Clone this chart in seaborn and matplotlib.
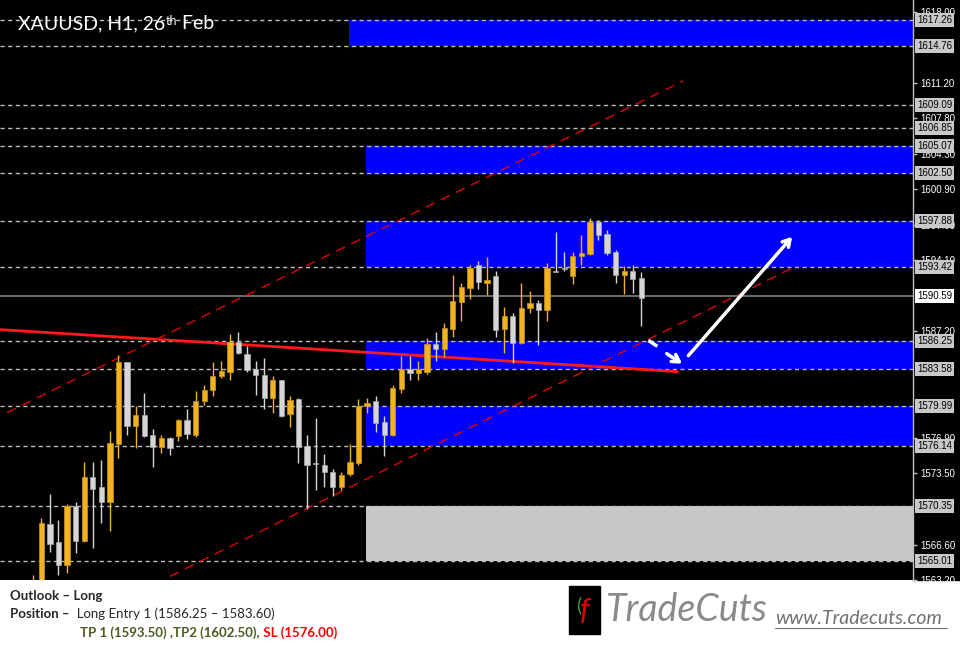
import numpy as np
import pandas as pd
import matplotlib
matplotlib.use("Agg")
import matplotlib.pyplot as plt
import matplotlib.transforms as mtransforms
from matplotlib.patches import Rectangle
from matplotlib.lines import Line2D
import seaborn as sns

# ---- candle data (H1 bars, index = bar number) ----
bar_idx = [0, 4, 5, 6, 7, 8, 9, 10, 11, 12, 13, 14, 15, 16, 17, 18, 19, 20, 21, 22,
           23, 24, 25, 26, 27, 28, 29, 30, 31, 32, 33, 34, 35, 36, 37, 38, 39, 40, 41, 42,
           43, 44, 45, 46, 47, 48, 49, 50, 51, 52, 53, 54, 55, 56, 57, 58, 59, 60, 61, 62,
           63, 64, 65, 66, 67, 68, 69, 70, 71, 72, 73, 74, 75]
opens = [1563.0, 1561.0, 1562.5, 1568.6, 1566.9, 1564.6, 1570.3, 1567.0, 1573.1, 1572.2,
         1570.7, 1576.3, 1584.2, 1578.1, 1579.1, 1577.2, 1576.0, 1576.9, 1577.1, 1578.6,
         1577.2, 1580.5, 1581.5, 1582.9, 1583.3, 1586.2, 1585.0, 1583.6, 1583.0, 1580.8,
         1582.5, 1579.2, 1580.7, 1576.1, 1574.5, 1574.3, 1573.6, 1572.2, 1573.4, 1574.5,
         1580.0, 1580.5, 1578.5, 1577.2, 1581.6, 1583.6, 1583.2, 1583.3, 1586.0, 1585.5,
         1587.4, 1590.0, 1591.4, 1593.6, 1591.9, 1592.5, 1587.4, 1588.7, 1586.1, 1589.5,
         1589.9, 1589.3, 1592.95, 1593.3, 1592.5, 1594.5, 1594.7, 1597.8, 1596.6, 1594.9,
         1592.6, 1593.0, 1592.4]
highs = [1569.8, 1563.7, 1569.2, 1571.5, 1569.0, 1570.5, 1570.7, 1574.6, 1574.6, 1574.8,
         1577.6, 1584.9, 1584.2, 1580.0, 1581.3, 1577.8, 1577.2, 1577.0, 1578.7, 1579.7,
         1581.4, 1582.0, 1584.2, 1584.3, 1586.9, 1587.1, 1585.8, 1584.3, 1584.6, 1582.9,
         1582.5, 1581.0, 1580.8, 1577.2, 1578.8, 1575.4, 1573.9, 1573.6, 1576.3, 1580.7,
         1580.8, 1581.0, 1579.0, 1582.0, 1584.8, 1584.8, 1584.3, 1586.6, 1587.1, 1588.0,
         1592.6, 1591.9, 1593.6, 1594.0, 1594.4, 1593.0, 1589.6, 1589.0, 1591.9, 1591.1,
         1590.2, 1593.8, 1596.8, 1594.9, 1594.9, 1596.5, 1598.1, 1598.0, 1597.0, 1595.1,
         1593.5, 1593.6, 1592.9]
lows = [1561.0, 1560.0, 1562.0, 1565.9, 1563.7, 1563.9, 1565.8, 1566.9, 1566.3, 1568.7,
        1567.9, 1575.0, 1577.2, 1575.9, 1577.0, 1574.1, 1575.5, 1575.3, 1576.6, 1576.8,
        1577.0, 1580.1, 1581.0, 1582.7, 1582.5, 1585.0, 1583.3, 1581.1, 1579.7, 1579.3,
        1578.9, 1578.0, 1574.5, 1570.1, 1571.9, 1572.2, 1571.3, 1571.9, 1573.2, 1574.3,
        1579.3, 1577.5, 1575.2, 1577.1, 1581.3, 1582.5, 1582.5, 1583.1, 1584.3, 1584.7,
        1586.7, 1588.2, 1590.3, 1591.3, 1590.7, 1586.7, 1585.1, 1584.1, 1586.0, 1589.0,
        1585.9, 1588.2, 1592.9, 1593.0, 1591.8, 1593.6, 1594.6, 1596.0, 1594.6, 1591.9,
        1590.8, 1590.9, 1587.7]
closes = [1562.0, 1563.0, 1568.75, 1566.7, 1564.6, 1570.3, 1567.0, 1573.1, 1572.0, 1570.7,
          1576.4, 1584.2, 1578.1, 1579.1, 1577.1, 1576.0, 1576.9, 1575.9, 1578.6, 1577.3,
          1580.5, 1581.5, 1582.9, 1583.4, 1586.2, 1585.1, 1583.5, 1583.0, 1580.8, 1582.5,
          1579.0, 1580.6, 1576.0, 1574.3, 1574.4, 1573.6, 1572.2, 1573.3, 1574.6, 1580.0,
          1580.3, 1578.4, 1577.2, 1581.7, 1583.6, 1583.2, 1583.6, 1586.0, 1585.5, 1587.5,
          1590.1, 1591.5, 1593.3, 1592.0, 1592.2, 1587.3, 1588.7, 1586.1, 1589.5, 1589.9,
          1589.3, 1593.3, 1592.9, 1593.2, 1594.5, 1594.8, 1597.8, 1596.5, 1594.8, 1592.6,
          1593.0, 1592.3, 1590.4]

# supply / demand zones
zone_start = [40.9, 42.9, 42.9, 42.9, 42.9]
zone_top = [1617.26, 1605.07, 1597.88, 1586.25, 1579.99]
zone_bottom = [1614.76, 1602.50, 1593.42, 1583.58, 1576.14]
grey_zone = [42.9, 1570.35, 1565.01]

# horizontal levels and visible axis ticks
level_prices = [1617.26, 1614.76, 1609.09, 1606.85, 1605.07, 1602.50, 1597.88,
                1593.42, 1586.25, 1583.58, 1579.99, 1576.14, 1570.35, 1565.01]
last_price = 1590.59
tick_prices = [1618.00, 1611.20, 1607.80, 1604.30, 1600.90, 1597.50, 1594.10,
               1587.20, 1576.90, 1573.50, 1566.60, 1563.20]

# trend lines (bar, price)
red_line_x = [0.17, 79.2]
red_line_y = [1587.37, 1583.32]
upper_chan_x = [0.99, 79.9]
upper_chan_y = [1579.36, 1611.38]
lower_chan_x = [20.0, 92.9]
lower_chan_y = [1563.55, 1593.44]

# arrows
dash_x = [75.82, 76.87]
dash_y = [1586.33, 1585.76]
arrow1 = [(77.97, 1585.05), (79.76, 1584.09)]
arrow2 = [(80.49, 1584.86), (92.6, 1596.33)]

UP_COL = "#f0b323"
DOWN_COL = "#d6d6d6"

sns.set_style("dark", {"axes.facecolor": "black", "figure.facecolor": "white"})
plt.rcParams["font.family"] = ["Lato", "DejaVu Sans"]

W, H = 960, 671
fig = plt.figure(figsize=(W / 100, H / 100), dpi=100)
ax = fig.add_axes([0, 91 / H, 913 / W, 580 / H])
ax.set_facecolor("black")

# black strip behind the price scale
fig.add_artist(Rectangle((913 / W, 91 / H), 47 / W, 580 / H, transform=fig.transFigure,
                         color="black", zorder=-1))

df = pd.DataFrame({"bar": bar_idx, "open": opens, "high": highs, "low": lows, "close": closes})
df["up"] = df["close"] >= df["open"]
df["col"] = np.where(df["up"], UP_COL, DOWN_COL)
df["body_lo"] = df[["open", "close"]].min(axis=1)
df["body_h"] = (df["close"] - df["open"]).abs().clip(lower=0.12)

# zones
for s, t, b in zip(zone_start, zone_top, zone_bottom):
    ax.add_patch(Rectangle((s, b), 200, t - b, color="#0000ff", lw=0, zorder=1))
ax.add_patch(Rectangle((grey_zone[0], grey_zone[2]), 200, grey_zone[1] - grey_zone[2],
                       color="#c8c8c8", lw=0, zorder=1))

# levels
for p in level_prices:
    ax.axhline(p, color="#bdbdbd", lw=1, ls=(0, (3, 2.5)), zorder=2)
ax.axhline(last_price, color="#808080", lw=1.2, zorder=2)

# trend lines
sns.lineplot(x=red_line_x, y=red_line_y, ax=ax, color="#ff1a1a", lw=2, zorder=3)
ax.plot(upper_chan_x, upper_chan_y, color="#e00000", lw=1, ls=(0, (7, 5)), zorder=3)
ax.plot(lower_chan_x, lower_chan_y, color="#e00000", lw=1, ls=(0, (7, 5)), zorder=3)

# candles
ax.vlines(df["bar"], df["low"], df["high"], colors=df["col"], lw=1, zorder=4)
ax.bar(df["bar"], df["body_h"], bottom=df["body_lo"], width=0.62, color=df["col"],
       edgecolor=np.where(df["up"], "#c99510", "#a8a8a8"), linewidth=0.5, zorder=5)

# arrows
ax.plot(dash_x, dash_y, color="white", lw=2.5, solid_capstyle="butt", zorder=6)
for (x0, y0), (x1, y1) in (arrow1, arrow2):
    ax.annotate("", xy=(x1, y1), xytext=(x0, y0),
                arrowprops=dict(arrowstyle="->,head_length=0.5,head_width=0.3",
                                color="white", lw=2.5, shrinkA=0, shrinkB=0), zorder=6)

ax.set_xlim(0.175, 106.7)
ax.set_ylim(1563.26, 1619.19)
ax.set_xticks([])
ax.yaxis.tick_right()
ax.set_yticks(tick_prices)
ax.set_yticklabels([f"{p:.2f}" for p in tick_prices], family="Liberation Sans", fontsize=7)
ax.tick_params(axis="y", colors="#c0c0c0", labelcolor="white", length=3, width=1, pad=2)
ax.grid(False)
for side in ["left", "top", "bottom"]:
    ax.spines[side].set_visible(False)
ax.spines["right"].set_visible(True)
ax.spines["right"].set_color("#c0c0c0")
ax.spines["right"].set_linewidth(1)

trans = mtransforms.blended_transform_factory(ax.transAxes, ax.transData)
for p in level_prices:
    ax.text(1.0045, p, f"{p:.2f}", transform=trans, ha="left", va="center", fontsize=7,
            family="Liberation Sans", color="black", clip_on=False, zorder=10,
            bbox=dict(boxstyle="square,pad=0.2", fc="#c8c8c8", ec="none"))
ax.text(1.0045, last_price, f"{last_price:.2f}", transform=trans, ha="left", va="center",
        fontsize=7, family="Liberation Sans", color="black", clip_on=False, zorder=10,
        bbox=dict(boxstyle="square,pad=0.2", fc="white", ec="none"))

# title
t1 = ax.text(18 / 913, 1 - 29 / 580, "XAUUSD, H1, 26", transform=ax.transAxes,
             color="white", fontsize=14, va="baseline", zorder=10)
t2 = ax.annotate("th", xy=(1, 0.98), xycoords=t1, va="top", ha="left",
                 fontsize=9, color="white", zorder=10)
ax.annotate(" Feb", xy=(1, 0), xycoords=(t2, t1), va="bottom", ha="left",
            fontsize=14, color="white", zorder=10)


def fpx(x, y):
    return x / W, 1 - y / H


# bottom panel text
fig.text(*fpx(10, 596), "Outlook \u2013 Long", fontsize=9.5, fontweight="bold", va="center")
tp = fig.text(*fpx(10, 614), "Position \u2013", fontsize=9.5, fontweight="bold", va="center")
ax.annotate("  Long Entry 1 (1586.25 \u2013 1583.60)", xy=(1, 0), xycoords=tp,
            va="bottom", ha="left", fontsize=9.5, annotation_clip=False)
tt = fig.text(*fpx(80, 633), "TP 1 (1593.50) ,TP2 (1602.50),", fontsize=9.5,
              fontweight="bold", color="#4a5d23", va="center")
ax.annotate(" SL (1576.00)", xy=(1, 0), xycoords=tt, va="bottom", ha="left",
            fontsize=9.5, fontweight="bold", color="#ff0000", annotation_clip=False)

# logo
fig.add_artist(Rectangle(fpx(569, 634), 31 / W, 48 / H, transform=fig.transFigure,
                         color="black", zorder=5))
fig.text(*fpx(585, 611), "f", fontsize=22, fontstyle="italic", color="#e00000",
         ha="center", va="center", zorder=6)
fig.text(*fpx(579, 605), "(", fontsize=14, color="#3c9a3c", ha="center", va="center", zorder=6)
fig.text(*fpx(606, 610), "TradeCuts", fontsize=27, fontstyle="italic",
         color="#8a8a8a", va="center")
fig.text(*fpx(775, 618), "www.Tradecuts.com", fontsize=14, fontstyle="italic",
         color="#707070", va="center")
fig.add_artist(Line2D([775 / W, 947 / W], [1 - 628 / H, 1 - 628 / H], transform=fig.transFigure,
                      color="#707070", lw=0.8))

fig.savefig("out.png", dpi=100, facecolor="white")
